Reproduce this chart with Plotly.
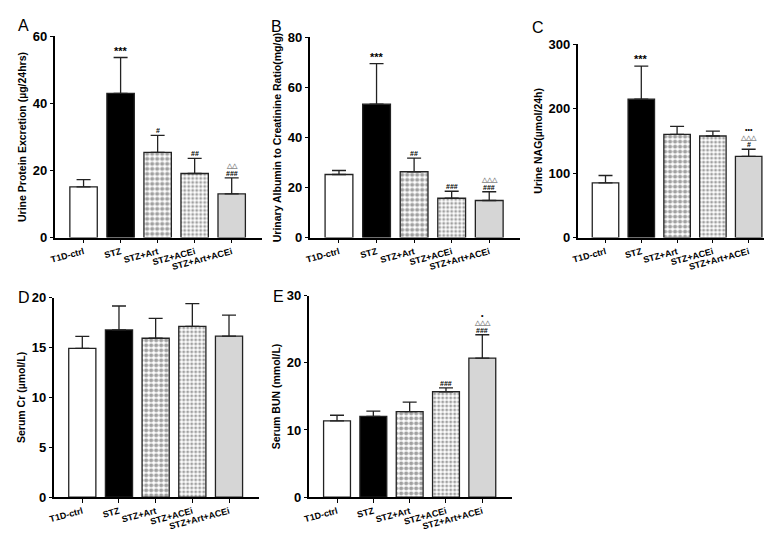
import plotly.graph_objects as go

# 데이터 =========================================================================
groups = ["T1D-ctrl", "STZ", "STZ+Art", "STZ+ACEi", "STZ+Art+ACEi"]

protein_mean = [15.1, 43.0, 25.4, 19.1, 13.0]
protein_sd = [2.2, 10.7, 5.1, 4.5, 4.8]

uacr_mean = [25.2, 53.3, 26.3, 15.7, 14.8]
uacr_sd = [1.6, 16.2, 5.4, 2.8, 3.5]

nag_mean = [84.8, 214.7, 160.0, 157.5, 125.8]
nag_sd = [11.5, 51.2, 12.5, 7.5, 11.2]

cr_mean = [14.93, 16.78, 15.94, 17.14, 16.16]
cr_sd = [1.2, 2.4, 2.0, 2.27, 2.1]

bun_mean = [11.35, 12.03, 12.75, 15.7, 20.72]
bun_sd = [0.85, 0.77, 1.41, 0.58, 3.48]

# 유의성 표시 (아래 -> 위)
marks_a = {1: ["***"], 2: ["#"], 3: ["##"], 4: ["###", "△△"]}
marks_b = {1: ["***"], 2: ["##"], 3: ["###"], 4: ["###", "△△△"]}
marks_c = {1: ["***"], 4: ["#", "△△△", "•••"]}
marks_d = {}
marks_e = {3: ["###"], 4: ["###", "△△△", "•"]}

FONT = "Liberation Sans, Arial, sans-serif"

fill = ["white", "black", "white", "white", "#d6d6d6"]
shapes = ["", "", ".", ".", ""]
fg = ["black", "black", "#666666", "#9c9c9c", "black"]
psize = [4, 4, 5, 4, 4]
solid = [0.5, 0.5, 0.55, 0.45, 0.5]

# (문자, 평균, SD, 표시, y축 제목, y최대, 눈금, x픽셀, y픽셀, 문자 위치)
panels = [
    ("A", protein_mean, protein_sd, marks_a, "Urine Protein Excretion (µg/24hrs)", 60, 20,
     [41, 250], [22, 229], (2, 11)),
    ("B", uacr_mean, uacr_sd, marks_b, "Urinary Albumin to Creatinine Ratio(mg/g)", 80, 20,
     [298, 510], [23, 229], (257, 12)),
    ("C", nag_mean, nag_sd, marks_c, "Urine NAG(µmol/24h)", 300, 100,
     [568, 770], [30, 229], (520, 13)),
    ("D", cr_mean, cr_sd, marks_d, "Serum Cr (µmol/L)", 20, 5,
     [40, 247], [291, 496], (2, 291)),
    ("E", bun_mean, bun_sd, marks_e, "Serum BUN (mmol/L)", 30, 10,
     [297, 502], [289, 496], (259, 290)),
]

W, H = 772, 533
fig = go.Figure()
layout = {}
annotations = []

for i, (letter, mean, sd, marks, ytitle, ymax, dtick, xpx, ypx, lpos) in enumerate(panels):
    n = "" if i == 0 else str(i + 1)
    fig.add_trace(go.Bar(
        x=groups, y=mean,
        xaxis="x" + n, yaxis="y" + n,
        width=0.74,
        marker=dict(
            color=fill,
            line=dict(color="#222", width=1.3),
            pattern=dict(shape=shapes, fgcolor=fg, bgcolor=fill, size=psize,
                         solidity=solid, fillmode="overlay"),
        ),
        error_y=dict(type="data", symmetric=False, array=sd, arrayminus=[0] * 5,
                     color="#222", thickness=1.3, width=7),
        showlegend=False,
    ))
    layout["xaxis" + n] = dict(
        domain=[xpx[0] / W, xpx[1] / W], anchor="y" + n,
        range=[-0.78, 4.82], showline=True, linecolor="black", linewidth=1.5,
        ticks="outside", ticklen=4, tickcolor="black", tickwidth=1.3,
        tickangle=-15, tickfont=dict(family=FONT, size=9, color="black", weight="bold"),
        fixedrange=True,
    )
    layout["yaxis" + n] = dict(
        domain=[1 - ypx[1] / H, 1 - ypx[0] / H], anchor="x" + n,
        range=[0, ymax], dtick=dtick, showline=True, linecolor="black", linewidth=1.5,
        ticks="outside", ticklen=3, tickcolor="black", tickwidth=1.3,
        showgrid=False, zeroline=False,
        tickfont=dict(family=FONT, size=13, color="black", weight="bold"),
        title=dict(text=ytitle, standoff=4,
                   font=dict(family=FONT, size=10.5, color="black", weight="bold")),
        fixedrange=True,
    )
    # 패널 문자
    annotations.append(dict(
        text=letter, x=lpos[0] / W, y=1 - lpos[1] / H,
        xref="paper", yref="paper", xanchor="left", yanchor="middle",
        showarrow=False, font=dict(family=FONT, size=16, color="black"),
    ))
    # 유의성 표시
    for k, syms in marks.items():
        top = mean[k] + sd[k]
        for j, s in enumerate(syms):
            dot = "•" in s
            annotations.append(dict(
                text=s, x=groups[k], y=top, xref="x" + n, yref="y" + n,
                yanchor="bottom", yshift=-1 + j * 6.5 + (2 if dot else 0),
                showarrow=False,
                font=dict(family=FONT, size=11 if s == "***" else 7,
                          color="#8a8a8a" if "△" in s else "black",
                          weight="bold"),
            ))

fig.update_layout(
    width=W, height=H,
    margin=dict(l=0, r=0, t=0, b=0),
    plot_bgcolor="white", paper_bgcolor="white",
    barmode="overlay",
    annotations=annotations,
    **layout,
)

fig.write_html("out.html")
